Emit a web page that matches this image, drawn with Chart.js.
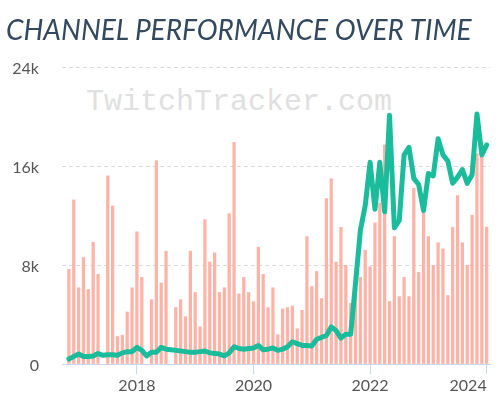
<!DOCTYPE html>
<html>
<head>
<meta charset="utf-8">
<script src="https://cdn.jsdelivr.net/npm/chart.js@4.4.1/dist/chart.umd.min.js"></script>
<style>
  html, body { margin: 0; padding: 0; background: #ffffff; }
  #wrap { position: relative; width: 500px; height: 415px; overflow: hidden; }
  #title { position: absolute; left: 6px; top: 15px; z-index: 3; font-family: Lato, sans-serif; font-style: italic; font-weight: 400; font-size: 28px; line-height: 28px; color: #34495e; white-space: nowrap; }
  #mark { position: absolute; left: 86px; top: 87px; z-index: 0; font-family: "Liberation Mono", monospace; font-weight: 400; font-size: 30px; line-height: 30px; color: #e0e0e0; white-space: nowrap; }
  #c { position: absolute; left: 0; top: 0; z-index: 1; }
</style>
</head>
<body>
<div id="wrap">
  <div id="title">CHANNEL PERFORMANCE OVER TIME</div>
  <div id="mark">TwitchTracker.com</div>
  <canvas id="c" width="500" height="415"></canvas>
</div>
<script>
// Months (one bar / one line point per month)
const months = [
  '2016-11','2016-12',
  '2017-01','2017-02','2017-03','2017-04','2017-05','2017-06','2017-07','2017-08','2017-09','2017-10','2017-11','2017-12',
  '2018-01','2018-02','2018-03','2018-04','2018-05','2018-06','2018-07','2018-08','2018-09','2018-10','2018-11','2018-12',
  '2019-01','2019-02','2019-03','2019-04','2019-05','2019-06','2019-07','2019-08','2019-09','2019-10','2019-11','2019-12',
  '2020-01','2020-02','2020-03','2020-04','2020-05','2020-06','2020-07','2020-08','2020-09','2020-10','2020-11','2020-12',
  '2021-01','2021-02','2021-03','2021-04','2021-05','2021-06','2021-07','2021-08','2021-09','2021-10','2021-11','2021-12',
  '2022-01','2022-02','2022-03','2022-04','2022-05','2022-06','2022-07','2022-08','2022-09','2022-10','2022-11','2022-12',
  '2023-01','2023-02','2023-03','2023-04','2023-05','2023-06','2023-07','2023-08','2023-09','2023-10','2023-11','2023-12',
  '2024-01'
];

// Bar series (salmon)
const barValues = [
  7650, 13260,
  6160, 8600, 6020, 9840, 7240, null, 15200, 12770, 2220, 2330, 4200, 6160,
  10680, 7000, null, 5200, 16430, 6540, 9110, null, 4560, 5200, 3820, 9110,
  5780, 3000, 11660, 8240, 8980, 5780, 6160, 12150, 17900, 5670, 7000, 5780,
  5040, 9440, 7240, 4560, 6160, 2360, 4450, 4560, 4690, 2850, 4340, 10300,
  6260, 7480, 5290, 13370, 14970, 8240, 11040, 7970, 4900, 6300, 7000, 9200,
  7860, 11400, 13000, 17700, 5050, 10300, 5450, 7000, 5450, 14200, 7400, 12300,
  10300, 7970, 9800, 9300, 5530, 11050, 13600, 9800, 7970, 12030, 17000, 17700,
  11050
];

// Line series (teal)
const lineValues = [
  400, 600,
  800, 600, 600, 650, 850, 700, 750, 750, 700, 900, 1000, 1000,
  1350, 1100, 650, 950, 950, 1350, 1200, 1150, 1100, 1050, 1000, 950,
  950, 1000, 1050, 900, 850, 800, 650, 900, 1400, 1250, 1200, 1250,
  1300, 1500, 1150, 1200, 1300, 1100, 1200, 1400, 1800, 1650, 1500, 1500,
  1450, 2000, 2150, 2300, 3000, 2700, 2100, 2400, 2400, 6500, 10800, 12800,
  16300, 12500, 16300, 12300, 20100, 11000, 11600, 16900, 17500, 15000, 14500, 12400,
  15400, 15200, 18200, 16900, 16400, 14600, 15100, 15700, 14600, 15300, 20200, 16900,
  17700
];

// Axis ticks
const yearTicks = [2018, 2020, 2022, 2024];
const yTicks = [0, 8000, 16000, 24000];
const yTickLabels = ['0', '8k', '16k', '24k'];

const X_MIN = 2016.715, X_MAX = 2024.057;

function monthToX(m) {
  const [y, mo] = m.split('-').map(Number);
  return y + (mo - 1) / 12;
}

const barData = months.map((m, i) => ({ x: monthToX(m), y: barValues[i] })).filter(p => p.y !== null);
const lineData = months.map((m, i) => ({ x: monthToX(m), y: lineValues[i] }));

Chart.defaults.font.family = 'Lato, sans-serif';

new Chart(document.getElementById('c'), {
  data: {
    datasets: [
      {
        type: 'line',
        data: lineData,
        borderColor: '#1abc9c',
        borderWidth: 5,
        pointRadius: 0,
        tension: 0,
        borderJoinStyle: 'round',
        borderCapStyle: 'round',
        order: 0
      },
      {
        type: 'bar',
        data: barData,
        backgroundColor: '#ffb3a7',
        barThickness: 2.6,
        order: 1
      }
    ]
  },
  options: {
    responsive: false,
    animation: false,
    events: [],
    layout: { padding: { left: 0, right: 10, top: 67, bottom: 21 } },
    plugins: { legend: { display: false }, tooltip: { enabled: false } },
    scales: {
      x: {
        type: 'linear',
        min: X_MIN,
        max: X_MAX,
        offset: false,
        afterBuildTicks: s => { s.ticks = [{ value: X_MIN }].concat(yearTicks.map(v => ({ value: v }))); },
        afterFit: s => { s.height = 30; s.paddingLeft = 0; s.paddingRight = 0; },
        ticks: {
          autoSkip: false,
          maxRotation: 0,
          align: 'inner',
          padding: 2,
          color: '#555555',
          font: { size: 16 },
          callback: (v, i) => i === 0 ? '' : String(yearTicks[i - 1])
        },
        grid: {
          offset: false,
          drawOnChartArea: false,
          drawTicks: true,
          tickLength: 10,
          tickWidth: 1,
          tickColor: c => c.index === 0 ? 'rgba(0,0,0,0)' : '#ccd6eb'
        },
        border: { display: true, color: '#ccd6eb', width: 1 }
      },
      y: {
        min: 0,
        max: 24000,
        afterBuildTicks: s => { s.ticks = yTicks.map(v => ({ value: v })); },
        afterFit: s => { s.width = 62; s.paddingTop = 0; s.paddingBottom = 0; },
        ticks: {
          padding: 23,
          labelOffset: 2,
          color: '#555555',
          font: { size: 16 },
          callback: (v, i) => yTickLabels[i]
        },
        grid: {
          drawTicks: false,
          color: c => (c.tick && c.tick.value === 0) ? 'rgba(0,0,0,0)' : '#d9d9d9',
          lineWidth: 1
        },
        border: { display: false, dash: [4, 3] }
      }
    }
  }
});
</script>
</body>
</html>
